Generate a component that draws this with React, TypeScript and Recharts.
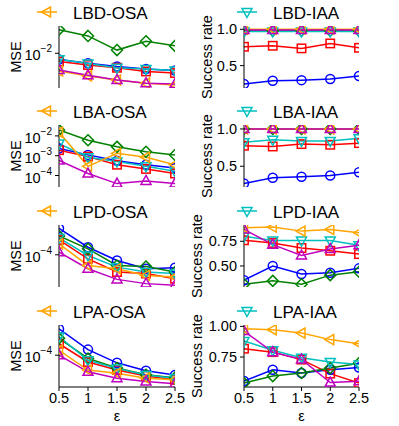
import React from "react";
import { LineChart, Line, XAxis, YAxis } from "recharts";

const FONT = '"Liberation Sans", Arial, Helvetica, sans-serif';

const EPS = [0.5, 1, 1.5, 2, 2.5];

// rows follow SERIES order: orange, cyan, red, blue, green, magenta
const LBD_OSA = [
  [0.0044, 0.0035, 0.0029, 0.0025, 0.0023],
  [0.0076, 0.0062, 0.0051, 0.0048, 0.0045],
  [0.0068, 0.0058, 0.0051, 0.0043, 0.004],
  [0.0075, 0.0063, 0.0054, 0.0048, 0.0045],
  [0.03, 0.0224, 0.0116, 0.0175, 0.0141],
  [0.0046, 0.0036, 0.0029, 0.0025, 0.0024],
];
const LBA_OSA = [
  [0.0153, 0.00029, 0.00132, 0.00084, 0.00035],
  [0.0041, 0.00084, 0.00051, 0.00029, 0.000164],
  [0.0019, 0.0009, 0.00035, 0.000215, 0.000126],
  [0.0023, 0.0011, 0.00055, 0.00035, 0.00024],
  [0.02, 0.006, 0.0028, 0.00158, 0.00109],
  [0.00057, 0.000126, 0.000039, 0.000053, 0.000039],
];
const LPD_OSA = [
  [1.66e-4, 6.1e-5, 5.25e-5, 3.85e-5, 3.56e-5],
  [2.2e-4, 9.7e-5, 5.65e-5, 4.5e-5, 4.2e-5],
  [2.0e-4, 8.3e-5, 4.5e-5, 4.2e-5, 3.3e-5],
  [3.4e-4, 1.42e-4, 7.7e-5, 5.25e-5, 5.5e-5],
  [2.4e-4, 1.32e-4, 6.1e-5, 5.8e-5, 4.5e-5],
  [1.13e-4, 5.25e-5, 3.2e-5, 2.63e-5, 2.43e-5],
];
const LPA_OSA = [
  [1.26e-4, 5.0e-5, 4.3e-5, 3.42e-5, 3.16e-5],
  [2.4e-4, 7.9e-5, 5.4e-5, 3.98e-5, 3.42e-5],
  [1.71e-4, 7.3e-5, 5.0e-5, 3.8e-5, 3.16e-5],
  [3.42e-4, 1.3e-4, 7.0e-5, 4.85e-5, 3.98e-5],
  [2.2e-4, 8.6e-5, 5.5e-5, 4.0e-5, 3.5e-5],
  [1.0e-4, 4.6e-5, 3.42e-5, 2.92e-5, 2.63e-5],
];
const LBD_IAA = [
  [1, 1, 1, 1, 1],
  [0.97, 0.97, 0.97, 0.97, 0.97],
  [0.759, 0.773, 0.737, 0.805, 0.745],
  [0.247, 0.292, 0.3, 0.315, 0.356],
  [0.98, 0.98, 0.98, 0.98, 0.98],
  [0.99, 0.99, 0.99, 0.99, 0.99],
];
const LBA_IAA = [
  [1, 1, 1, 1, 1],
  [0.823, 0.854, 0.84, 0.84, 0.876],
  [0.775, 0.765, 0.797, 0.788, 0.81],
  [0.27, 0.346, 0.36, 0.377, 0.42],
  [1, 1, 1, 1, 1],
  [1, 1, 1, 1, 1],
];
const LPD_IAA = [
  [0.888, 0.894, 0.853, 0.87, 0.836],
  [0.8, 0.757, 0.757, 0.757, 0.709],
  [0.76, 0.733, 0.682, 0.654, 0.62],
  [0.356, 0.5, 0.418, 0.431, 0.476],
  [0.315, 0.349, 0.315, 0.407, 0.441],
  [0.87, 0.716, 0.606, 0.672, 0.709],
];
const LPA_IAA = [
  [0.981, 0.973, 0.945, 0.892, 0.859],
  [0.88, 0.805, 0.745, 0.71, 0.69],
  [0.818, 0.79, 0.729, 0.615, 0.538],
  [0.555, 0.647, 0.62, 0.647, 0.664],
  [0.538, 0.595, 0.62, 0.66, 0.7],
  [0.962, 0.79, 0.73, 0.542, 0.552],
];

const SERIES = [
  { key: "orange", color: "#ffa500", shape: "triLeft" },
  { key: "cyan", color: "#00bfbf", shape: "triDown" },
  { key: "red", color: "#ff0000", shape: "square" },
  { key: "blue", color: "#0000ff", shape: "circle" },
  { key: "green", color: "#008000", shape: "diamond" },
  { key: "magenta", color: "#bf00bf", shape: "triUp" },
];
const DRAW_ORDER = ["blue", "red", "green", "cyan", "orange", "magenta"];

const toRows = (vals: number[][]) =>
  EPS.map((e, i) => {
    const r: any = { eps: e };
    SERIES.forEach((s, j) => (r[s.key] = vals[j][i]));
    return r;
  });

function Marker({ cx, cy, shape, color }: any) {
  if (cx == null || cy == null) return null;
  const st = { fill: "none", stroke: color, strokeWidth: 1.5 };
  switch (shape) {
    case "circle":
      return <circle cx={cx} cy={cy} r={4.5} {...st} />;
    case "square":
      return <rect x={cx - 4.2} y={cy - 4.2} width={8.4} height={8.4} {...st} />;
    case "diamond":
      return <polygon points={`${cx},${cy - 5.5} ${cx + 5.5},${cy} ${cx},${cy + 5.5} ${cx - 5.5},${cy}`} {...st} />;
    case "triUp":
      return <polygon points={`${cx},${cy - 5.5} ${cx + 5},${cy + 3.5} ${cx - 5},${cy + 3.5}`} {...st} />;
    case "triDown":
      return <polygon points={`${cx},${cy + 5.5} ${cx + 5},${cy - 3.5} ${cx - 5},${cy - 3.5}`} {...st} />;
    default:
      return <polygon points={`${cx - 5.5},${cy} ${cx + 3.5},${cy - 5} ${cx + 3.5},${cy + 5}`} {...st} />;
  }
}

function LogTick({ x, y, payload }: any) {
  const exp = Math.round(Math.log10(payload.value));
  return (
    <text x={x} y={y + 7} textAnchor="end" fontSize={14.5} fill="#000">
      10
      <tspan dy={-8} fontSize={10}>{"\u2212" + Math.abs(exp)}</tspan>
    </text>
  );
}

const PANELS = [
  { title: "LBD-OSA", vals: LBD_OSA, col: 0, row: 0, log: true, domain: [Math.pow(10, -2.7), Math.pow(10, -1.45)], ticks: [1e-2] },
  { title: "LBD-IAA", vals: LBD_IAA, col: 1, row: 0, log: false, domain: [0.192, 1.045], ticks: [0.5, 1], dec: 1 },
  { title: "LBA-OSA", vals: LBA_OSA, col: 0, row: 1, log: true, domain: [Math.pow(10, -4.58), Math.pow(10, -1.45)], ticks: [1e-2, 1e-3, 1e-4] },
  { title: "LBA-IAA", vals: LBA_IAA, col: 1, row: 1, log: false, domain: [0.222, 1.053], ticks: [0.5, 1], dec: 1 },
  { title: "LPD-OSA", vals: LPD_OSA, col: 0, row: 2, log: true, domain: [Math.pow(10, -4.648), Math.pow(10, -3.4)], ticks: [1e-4] },
  { title: "LPD-IAA", vals: LPD_IAA, col: 1, row: 2, log: false, domain: [0.287, 0.915], ticks: [0.5, 0.75], dec: 2 },
  { title: "LPA-OSA", vals: LPA_OSA, col: 0, row: 3, log: true, domain: [Math.pow(10, -4.646), Math.pow(10, -3.386)], ticks: [1e-4] },
  { title: "LPA-IAA", vals: LPA_IAA, col: 1, row: 3, log: false, domain: [0.506, 1.011], ticks: [0.75, 1], dec: 2 },
];

const PLOT_TOP = [26, 125, 225, 325];
const PLOT_H = 62;

function Panel({ p }: any) {
  const data = toRows(p.vals);
  const left = p.col === 0 ? 0 : 190;
  const width = p.col === 0 ? 190 : 209;
  const yw = p.col === 0 ? 59 : 54;
  const right = p.col === 0 ? 15 : 40;
  const bottomRow = p.row === 3;
  const xh = bottomRow ? 38 : 0;
  const top = PLOT_TOP[p.row] - 26;
  const axisLine = { stroke: "#000", strokeWidth: 1 };
  return (
    <div style={{ position: "absolute", left, top }}>
      <LineChart width={width} height={26 + PLOT_H + xh} data={data} margin={{ top: 26, right, bottom: 0, left: 0 }}>
        <XAxis
          dataKey="eps"
          type="number"
          domain={[0.5, 2.5]}
          ticks={EPS}
          interval={0}
          allowDataOverflow
          height={xh}
          axisLine={axisLine}
          tickLine={bottomRow ? { stroke: "#000" } : false}
          tick={bottomRow ? { fontSize: 14.5, fill: "#000" } : false}
          tickSize={4}
          tickMargin={2}
        />
        <XAxis xAxisId="top" orientation="top" type="number" dataKey="eps" domain={[0.5, 2.5]} height={0} tick={false} tickLine={false} axisLine={axisLine} />
        <YAxis
          type="number"
          scale={p.log ? "log" : "linear"}
          domain={p.domain}
          allowDataOverflow
          ticks={p.ticks}
          interval={0}
          width={yw}
          axisLine={axisLine}
          tickLine={{ stroke: "#000" }}
          tickSize={4}
          tickMargin={3}
          tick={p.log ? (t: any) => <LogTick {...t} /> : { fontSize: 14.5, fill: "#000" }}
          tickFormatter={p.log ? undefined : (v: number) => v.toFixed(p.dec)}
        />
        <YAxis yAxisId="right" orientation="right" type="number" domain={[0, 1]} width={0} tick={false} tickLine={false} axisLine={axisLine} />
        {DRAW_ORDER.map((k) => {
          const s = SERIES.find((q) => q.key === k)!;
          return (
            <Line
              key={k}
              type="linear"
              dataKey={k}
              stroke={s.color}
              strokeWidth={1.5}
              isAnimationActive={false}
              activeDot={false}
              dot={(d: any) => <Marker key={`${k}-${d.index}`} cx={d.cx} cy={d.cy} shape={s.shape} color={s.color} />}
            />
          );
        })}
      </LineChart>
    </div>
  );
}

function Labels() {
  return (
    <svg width={399} height={426} style={{ position: "absolute", left: 0, top: 0, pointerEvents: "none" }}>
      {PANELS.map((p) => {
        const base = PLOT_TOP[p.row] - 26;
        const s = p.col === 0 ? SERIES[0] : SERIES[1];
        const lx = p.col === 0 ? 37 : 237;
        const tx = p.col === 0 ? 73 : 273;
        const yl = p.col === 0 ? 21 : p.row < 2 ? 211.5 : 202;
        const cy = PLOT_TOP[p.row] + PLOT_H / 2;
        return (
          <g key={p.title}>
            <line x1={lx} x2={lx + 20} y1={base + 12} y2={base + 12} stroke={s.color} strokeWidth={1.5} />
            <Marker cx={lx + 10} cy={base + 12} shape={s.shape} color={s.color} />
            <text x={tx} y={base + 18.5} fontSize={17} fill="#000">{p.title}</text>
            <text x={yl} y={cy} fontSize={14.5} fill="#000" textAnchor="middle" transform={`rotate(-90 ${yl} ${cy})`}>
              {p.col === 0 ? "MSE" : "Success rate"}
            </text>
          </g>
        );
      })}
      <text x={117} y={420.5} fontSize={14.5} fill="#000" textAnchor="middle">ε</text>
      <text x={301.5} y={420.5} fontSize={14.5} fill="#000" textAnchor="middle">ε</text>
    </svg>
  );
}

export default function App() {
  return (
    <div style={{ position: "absolute", left: 0, top: 0, width: 399, height: 426, overflow: "hidden", background: "#fff", fontFamily: FONT }}>
      {PANELS.map((p) => (
        <Panel key={p.title} p={p} />
      ))}
      <Labels />
    </div>
  );
}
